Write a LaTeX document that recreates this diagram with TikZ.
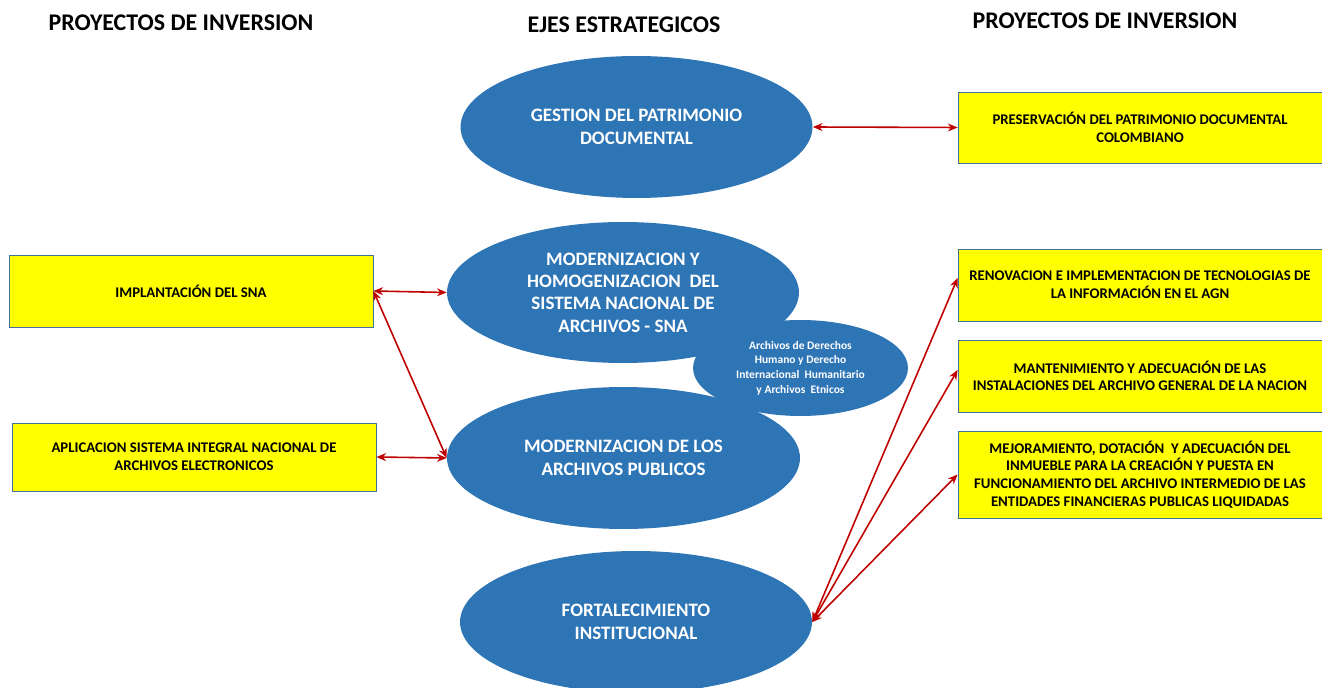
\documentclass[tikz,border=0pt]{standalone}
\usepackage{fontspec}
\setmainfont{Carlito}
\usetikzlibrary{shapes.geometric,arrows.meta}
\definecolor{ejeblue}{HTML}{2E75B6}
\definecolor{proyyellow}{HTML}{FFFF00}
\definecolor{proyborder}{HTML}{41719C}
\definecolor{flechared}{HTML}{C00000}

\begin{document}
\begin{tikzpicture}[x=0.02cm,y=-0.02cm,
    eje/.style={ellipse,fill=ejeblue,text=white,inner sep=0pt,align=center,
      minimum width=7.04cm,minimum height=2.84cm,
      font=\fontsize{10.8}{12.75}\selectfont\bfseries},
    proy/.style={rectangle,fill=proyyellow,draw=proyborder,line width=0.5pt,
      inner sep=0pt,align=center,minimum width=7.28cm,minimum height=1.44cm,
      font=\fontsize{8.4}{10}\selectfont\bfseries},
    titulo/.style={font=\fontsize{13.6}{16}\selectfont\bfseries},
    flecha/.style={draw=flechared,line width=0.9pt,
      {Stealth[length=5.5pt,width=4.5pt]}-{Stealth[length=5.5pt,width=4.5pt]}}]
  \useasboundingbox (0,0) rectangle (1322,688);

  % titulos
  \node[titulo] (tizq) at (181,23) {PROYECTOS DE INVERSION};
  \node[titulo] (tcen) at (624,25) {EJES ESTRATEGICOS};
  \node[titulo] (tder) at (1105,21) {PROYECTOS DE INVERSION};

  % ejes estrategicos
  \node[eje] (gestion) at (636.5,127) {GESTION DEL PATRIMONIO\\DOCUMENTAL};
  \node[eje,minimum height=2.82cm] (moder) at (623,292.5)
    {MODERNIZACION Y\\HOMOGENIZACION~ DEL\\SISTEMA NACIONAL DE\\ARCHIVOS - SNA};
  \node[eje,minimum width=4.3cm,minimum height=1.92cm,
    font=\fontsize{6.55}{8.3}\selectfont\bfseries] (ddhh) at (800.5,368)
    {Archivos de Derechos\\Humano y Derecho\\Internacional~ Humanitario\\y Archivos~ Etnicos};
  \node[eje,minimum width=7.06cm] (public) at (623.5,458) {MODERNIZACION DE LOS\\ARCHIVOS PUBLICOS};
  \node[eje] (fortal) at (636,622) {FORTALECIMIENTO\\INSTITUCIONAL};

  % proyectos
  \node[proy] (implan) at (191,291) {IMPLANTACIÓN DEL SNA};
  \node[proy,minimum height=1.36cm] (aplic) at (194,457)
    {APLICACION SISTEMA INTEGRAL NACIONAL DE\\ARCHIVOS ELECTRONICOS};
  \node[proy,minimum height=1.42cm] (preserv) at (1140,127.5)
    {PRESERVACIÓN DEL PATRIMONIO DOCUMENTAL\\COLOMBIANO};
  \node[proy] (renov) at (1140,285)
    {RENOVACION E IMPLEMENTACION DE TECNOLOGIAS DE\\LA INFORMACIÓN EN EL AGN};
  \node[proy] (mant) at (1140,376)
    {MANTENIMIENTO Y ADECUACIÓN DE LAS\\INSTALACIONES DEL ARCHIVO GENERAL DE LA NACION};
  \node[proy,minimum height=1.74cm] (mejor) at (1140,474.5)
    {MEJORAMIENTO, DOTACIÓN~ Y ADECUACIÓN DEL\\INMUEBLE PARA LA CREACIÓN Y PUESTA EN\\
     FUNCIONAMIENTO DEL ARCHIVO INTERMEDIO DE LAS\\ENTIDADES FINANCIERAS PUBLICAS LIQUIDADAS};

  % relaciones
  \draw[flecha] (gestion.east) -- (preserv.west);
  \draw[flecha] (implan.east) -- (moder.west);
  \draw[flecha] (implan.east) -- (public.west);
  \draw[flecha] (aplic.east) -- (public.west);
  \draw[flecha] (fortal.east) -- ([yshift=0.14cm]renov.west);
  \draw[flecha] (fortal.east) -- ([yshift=0.12cm]mant.west);
  \draw[flecha] (fortal.east) -- (mejor.west);
\end{tikzpicture}
\end{document}
